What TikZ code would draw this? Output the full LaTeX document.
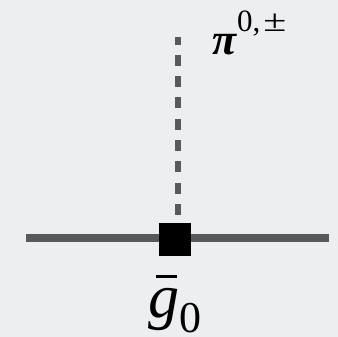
\documentclass[tikz,border=0pt]{standalone}
\usepackage{fontspec}
\usepackage{graphicx}
\setmainfont{Liberation Serif}
\definecolor{bgc}{RGB}{236,238,240}
\definecolor{linec}{RGB}{86,90,90}
\tikzset{
  prop/.style={draw=linec, line width=8pt},
  pionline/.style={draw=linec, line width=6pt, dash pattern=on 11pt off 10.3pt},
  vertexbox/.style={fill=black, draw=none, minimum width=32pt, minimum height=33pt, inner sep=0pt},
  lbl/.style={inner sep=0pt, outer sep=0pt}
}
\begin{document}
\begin{tikzpicture}[x=1pt,y=-1pt]
\fill[bgc] (0,0) rectangle (338,337);
\useasboundingbox (0,0) rectangle (338,337);
\coordinate (L) at (26,238);
\coordinate (R) at (329,238);
\coordinate (Ptop) at (178,37);
\coordinate (Pbot) at (178,215);
\draw[prop] (L) -- (R);
\draw[pionline] (Pbot) -- (Ptop);
\node[vertexbox] (v) at (175,239) {};
\node[lbl, anchor=base west] (pi) at (212,55) {\fontsize{44}{46}\selectfont\bfseries\itshape π\mdseries\upshape\hspace{1pt}\raisebox{23pt}{\fontsize{31}{34}\selectfont 0,\hspace{3pt}\scalebox{1.35}[1]{±}}};
\node[lbl, anchor=base west] (g) at (148,317) {\fontsize{62}{64}\selectfont\rlap{\hspace{8pt}\rule[39pt]{21pt}{3pt}}\itshape g\upshape\raisebox{-15pt}{\fontsize{44}{48}\selectfont 0}};
\end{tikzpicture}
\end{document}
